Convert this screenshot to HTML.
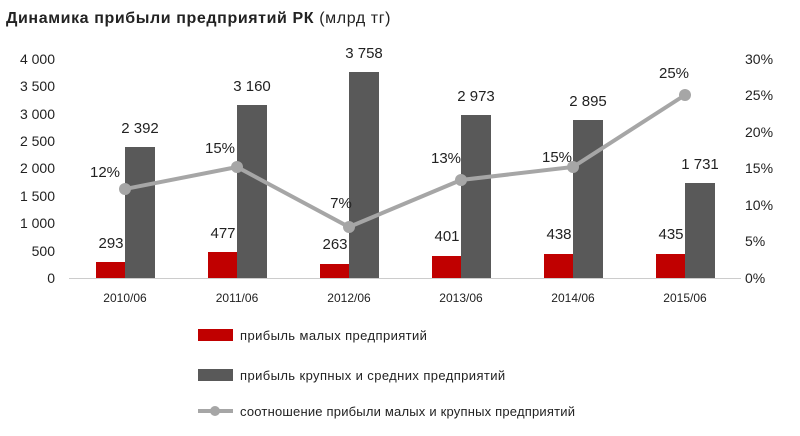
<!DOCTYPE html><html><head><meta charset="utf-8"><style>body{margin:0;background:#fff}svg{display:block}text{font-family:"Liberation Sans",sans-serif;fill:#222}</style></head><body>
<svg width="800" height="436" xmlns="http://www.w3.org/2000/svg">
<text x="6" y="23" font-size="16" font-weight="bold" letter-spacing="0.6" fill="#333">Динамика  прибыли  предприятий  РК <tspan font-weight="normal">(млрд тг)</tspan></text>
<g font-size="14" text-anchor="end">
<text x="55" y="64">4 000</text><text x="55" y="91">3 500</text><text x="55" y="119">3 000</text><text x="55" y="146">2 500</text><text x="55" y="173">2 000</text><text x="55" y="201">1 500</text><text x="55" y="228">1 000</text><text x="55" y="256">500</text><text x="55" y="283">0</text>
</g>
<g font-size="14" text-anchor="start">
<text x="745" y="64">30%</text><text x="745" y="100">25%</text><text x="745" y="137">20%</text><text x="745" y="173">15%</text><text x="745" y="210">10%</text><text x="745" y="246">5%</text><text x="745" y="283">0%</text>
</g>
<line x1="69" y1="278.5" x2="741" y2="278.5" stroke="#ccc"/>
<g fill="#c00000">
<rect x="96" y="262" width="29" height="16"/><rect x="208" y="252" width="29" height="26"/><rect x="320" y="264" width="29" height="14"/><rect x="432" y="256" width="29" height="22"/><rect x="544" y="254" width="29" height="24"/><rect x="656" y="254" width="29" height="24"/>
</g>
<g fill="#595959">
<rect x="125" y="147" width="30" height="131"/><rect x="237" y="105" width="30" height="173"/><rect x="349" y="72" width="30" height="206"/><rect x="461" y="115" width="30" height="163"/><rect x="573" y="120" width="30" height="158"/><rect x="685" y="183" width="30" height="95"/>
</g>
<polyline points="125,189 237,167 349,227 461,180 573,167 685,95" fill="none" stroke="#a6a6a6" stroke-width="4"/>
<g fill="#a6a6a6"><circle cx="125" cy="189" r="6"/><circle cx="237" cy="167" r="6"/><circle cx="349" cy="227" r="6"/><circle cx="461" cy="180" r="6"/><circle cx="573" cy="167" r="6"/><circle cx="685" cy="95" r="6"/></g>
<g font-size="15" text-anchor="middle">
<text x="111" y="248">293</text><text x="223" y="238">477</text><text x="335" y="249">263</text><text x="447" y="241">401</text><text x="559" y="239">438</text><text x="671" y="239">435</text>
<text x="140" y="133">2 392</text><text x="252" y="91">3 160</text><text x="364" y="58">3 758</text><text x="476" y="101">2 973</text><text x="588" y="106">2 895</text><text x="700" y="169">1 731</text>
<text x="105" y="177">12%</text><text x="220" y="153">15%</text><text x="341" y="208">7%</text><text x="446" y="163">13%</text><text x="557" y="162">15%</text><text x="674" y="78">25%</text>
</g>
<g font-size="12" text-anchor="middle">
<text x="125" y="302">2010/06</text><text x="237" y="302">2011/06</text><text x="349" y="302">2012/06</text><text x="461" y="302">2013/06</text><text x="573" y="302">2014/06</text><text x="685" y="302">2015/06</text>
</g>
<rect x="198" y="329" width="35" height="12" fill="#c00000"/>
<rect x="198" y="369" width="35" height="12" fill="#595959"/>
<line x1="198" y1="411" x2="233" y2="411" stroke="#a6a6a6" stroke-width="4"/><circle cx="215" cy="411" r="5" fill="#a6a6a6"/>
<g font-size="13" letter-spacing="0.4"><text x="240" y="340">прибыль малых предприятий</text><text x="240" y="380">прибыль крупных и средних предприятий</text><text x="240" y="416" letter-spacing="0.2">соотношение прибыли малых и крупных предприятий</text></g>
</svg></body></html>
